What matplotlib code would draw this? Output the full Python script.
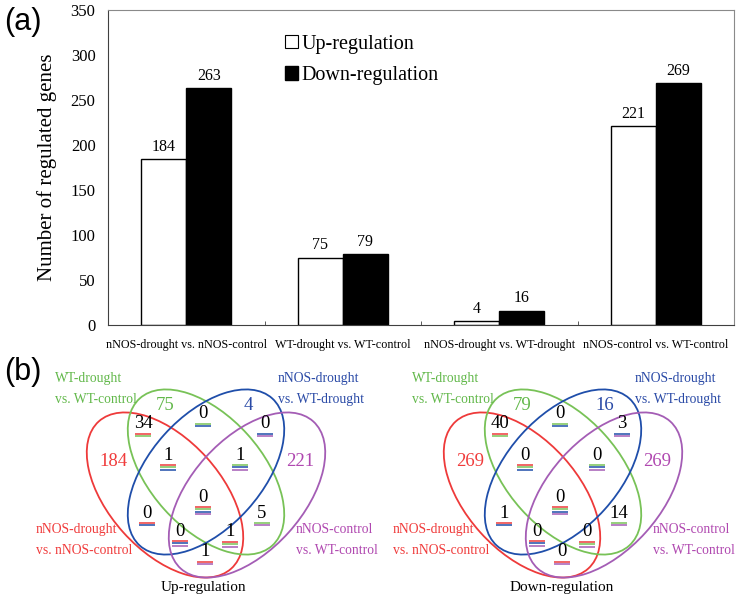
import matplotlib
matplotlib.use('Agg')
import matplotlib.pyplot as plt
import numpy as np
from matplotlib.patches import Ellipse, Patch

# ---------------- data ----------------
categories = ["nNOS-drought vs. nNOS-control", "WT-drought vs. WT-control",
              "nNOS-drought vs. WT-drought", "nNOS-control vs. WT-control"]
up_counts = [184, 75, 4, 221]
down_counts = [263, 79, 16, 269]
y_ticks = [0, 50, 100, 150, 200, 250, 300, 350]
legend_labels = ["Up-regulation", "Down-regulation"]

set_names = ["nNOS-drought\nvs. nNOS-control", "WT-drought\nvs. WT-control",
             "nNOS-drought\nvs. WT-drought", "nNOS-control\nvs. WT-control"]
venn_regions = ["A", "B", "C", "D", "AB", "BC", "CD", "ABC", "BCD", "ABCD",
                "AC", "BD", "ACD", "ABD", "AD"]
venn_up_counts = [184, 75, 4, 221, 34, 0, 0, 1, 1, 0, 0, 5, 0, 1, 1]
venn_down_counts = [269, 79, 16, 269, 40, 0, 3, 0, 0, 0, 1, 14, 0, 0, 0]
venn_titles = ["Up-regulation", "Down-regulation"]

# ---------------- style ----------------
SERIF = ["Liberation Serif", "DejaVu Serif"]
SANS = ["Liberation Sans", "DejaVu Sans"]
set_colors = {"A": "#ee3a3a", "B": "#78c257", "C": "#1f4eaa", "D": "#a45db5"}
text_colors = {"A": "#f03c3c", "B": "#62b84a", "C": "#2a4aa6", "D": "#b048b0"}

W, H = 738, 598
fig = plt.figure(figsize=(W / 100, H / 100), dpi=100)

# ---------------- (a) bar chart ----------------
ax_l, ax_r, ax_t, ax_b = 108, 734, 10, 325
ax = fig.add_axes([ax_l / W, 1 - ax_b / H, (ax_r - ax_l) / W, (ax_b - ax_t) / H])
x = np.arange(len(categories))
bw = 45 / ((ax_r - ax_l) / 4)
b1 = ax.bar(x - bw / 2, up_counts, bw, color="white", edgecolor="black", linewidth=1.0)
b2 = ax.bar(x + bw / 2, down_counts, bw, color="black", edgecolor="black", linewidth=1.0)
for bars, vals in ((b1, up_counts), (b2, down_counts)):
    for r, v in zip(bars, vals):
        ax.annotate(str(v), (r.get_x() + r.get_width() / 2, v), xytext=(0, 3),
                    textcoords="offset points", ha="center", va="bottom",
                    family=SERIF, fontsize=11.5)
ax.set_xlim(-0.5, len(categories) - 0.5)
ax.set_ylim(0, 350)
ax.set_yticks(y_ticks)
ax.set_yticklabels([str(t) for t in y_ticks], family=SERIF, fontsize=12)
ax.tick_params(axis="y", length=0, pad=9)
ax.set_xticks(x)
ax.set_xticklabels(categories, family=SERIF, fontsize=8.7)
ax.tick_params(axis="x", which="major", length=0, pad=10)
ax.set_xticks(np.arange(len(categories) + 1)[1:-1] - 0.5, minor=True)
ax.tick_params(axis="x", which="minor", direction="in", length=3, color="#404040")
ax.set_ylabel("Number of regulated genes", family=SERIF, fontsize=15, labelpad=10)
for s in ("left", "bottom"):
    ax.spines[s].set_color("#404040")
for s in ("top", "right"):
    ax.spines[s].set_color("#8a8a8a")
leg = ax.legend([Patch(facecolor="white", edgecolor="black", linewidth=0.8),
                 Patch(facecolor="black", edgecolor="black")], legend_labels,
                loc="upper left", bbox_to_anchor=(0.283, 0.922), frameon=False,
                handlelength=0.65, handleheight=0.65, handletextpad=0.15,
                labelspacing=0.62, borderpad=0, borderaxespad=0,
                prop={"family": SERIF, "size": 14.5})

# ---------------- (b) Venn diagrams ----------------
ov = fig.add_axes([0, 0, 1, 1], facecolor="none")
ov.set_xlim(0, W)
ov.set_ylim(H, 0)
ov.axis("off")

fig.text(4 / W, 1 - 22 / H, "(a)", family=SANS, fontsize=22, va="center", ha="left")
fig.text(4 / W, 1 - 372 / H, "(b)", family=SANS, fontsize=22, va="center", ha="left")

# layout (pixels, left diagram); right diagram shifted
ell_a, ell_b, ell_ang = 99, 56, 48
ell_layout = {"A": (165, 495, ell_ang), "B": (206, 472, ell_ang),
              "C": (206, 472, -ell_ang), "D": (247, 495, -ell_ang)}
region_pos = {"A": (113, 461), "B": (165, 405), "C": (248, 405), "D": (300, 461),
              "AB": (143, 424), "BC": (203, 414), "CD": (265, 424),
              "ABC": (168, 455), "BCD": (240, 455), "ABCD": (203, 497),
              "AC": (147, 513), "BD": (262, 513), "ACD": (180, 531),
              "ABD": (230, 532), "AD": (205, 552)}
label_pos = {"B": (55, 389), "C": (278, 389), "A": (36, 540), "D": (296, 540)}
title_pos = (203, 588)
set_keys = ["A", "B", "C", "D"]

for k, (counts, title) in enumerate(((venn_up_counts, venn_titles[0]),
                                     (venn_down_counts, venn_titles[1]))):
    dx = 357 * k
    for key in set_keys:
        cx, cy, ang = ell_layout[key]
        ov.add_patch(Ellipse((cx + dx, cy), 2 * ell_a, 2 * ell_b, angle=ang,
                             fill=False, edgecolor=set_colors[key], linewidth=1.3))
    for i, key in enumerate(set_keys):
        lx, ly = label_pos[key]
        ov.text(lx + dx, ly, set_names[i], color=text_colors[key], family=SERIF,
                fontsize=9.8, ha="left", va="center", linespacing=1.75)
    for reg, val in zip(venn_regions, counts):
        px, py = region_pos[reg]
        px += dx
        if len(reg) == 1:
            ov.text(px, py, str(val), color=text_colors[reg], family=SERIF,
                    fontsize=13.5, ha="center", va="center")
        else:
            ov.text(px, py, str(val), color="black", family=SERIF,
                    fontsize=13.5, ha="center", va="center")
            for j, s in enumerate(reg):
                yy = py + 10 + 2.3 * j
                ov.plot([px - 8, px + 8], [yy, yy], color=set_colors[s],
                        linewidth=1.1, solid_capstyle="butt")
    ov.text(title_pos[0] + 359 * k, title_pos[1], title, family=SERIF, fontsize=11,
            ha="center", va="center")

fig.savefig("out.png", dpi=100)
